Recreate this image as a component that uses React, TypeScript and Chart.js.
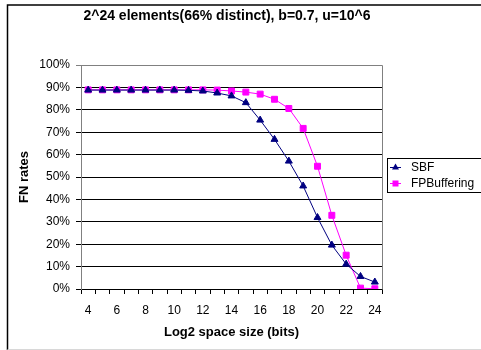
import React, { useEffect, useRef } from "react";
import { Chart, registerables } from "chart.js";

Chart.register(...registerables);

const TITLE = "2^24 elements(66% distinct), b=0.7, u=10^6";
const X_TITLE = "Log2 space size (bits)";
const Y_TITLE = "FN rates";
const categories = [4, 5, 6, 7, 8, 9, 10, 11, 12, 13, 14, 15, 16, 17, 18, 19, 20, 21, 22, 23, 24];
const sbf = [88.8, 88.8, 88.8, 88.8, 88.8, 88.8, 88.8, 88.7, 88.4, 87.5, 86.2, 83.2, 75.4, 66.8, 57.1, 46.0, 31.9, 19.6, 11.1, 5.6, 3.1];
const fpBuffering = [88.9, 88.9, 88.9, 88.9, 88.9, 88.9, 88.9, 88.9, 88.9, 88.8, 88.4, 87.9, 87.0, 84.7, 80.6, 71.7, 54.8, 32.9, 15.1, 0.4, 0.1];
const SERIES_NAMES = ["SBF", "FPBuffering"];
const COLORS = ["#000080", "#FF00FF"];
const FONT = "'Liberation Sans', Arial, sans-serif";

export default function App() {
  const ref = useRef<HTMLCanvasElement | null>(null);

  useEffect(() => {
    document.body.style.margin = "0";
    const canvas = ref.current;
    if (!canvas) return;

    const decor = {
      id: "decor",
      afterDraw(chart: any) {
        const ctx = chart.ctx;
        const ca = chart.chartArea;
        ctx.save();
        // outer frame
        ctx.strokeStyle = "#000";
        ctx.lineWidth = 1.5;
        ctx.beginPath();
        ctx.moveTo(7.5, 350);
        ctx.lineTo(7.5, 5);
        ctx.lineTo(481, 5);
        ctx.stroke();
        ctx.strokeStyle = "#d8d8d8";
        ctx.lineWidth = 1;
        ctx.beginPath();
        ctx.moveTo(7.5, 349.5);
        ctx.lineTo(481, 349.5);
        ctx.stroke();
        // plot border (gray top/right)
        ctx.strokeStyle = "#808080";
        ctx.beginPath();
        ctx.moveTo(Math.round(ca.left) + 0.5, Math.round(ca.top) + 0.5);
        ctx.lineTo(Math.round(ca.right) + 0.5, Math.round(ca.top) + 0.5);
        ctx.lineTo(Math.round(ca.right) + 0.5, Math.round(ca.bottom) + 0.5);
        ctx.stroke();
        // title
        ctx.fillStyle = "#000";
        ctx.font = `bold 14px ${FONT}`;
        ctx.textAlign = "center";
        ctx.textBaseline = "middle";
        ctx.fillText(TITLE, 227, 16);
        // legend
        const lx = 387, ly = 158, lw = 100, lh = 34;
        ctx.strokeStyle = "#000";
        ctx.lineWidth = 1;
        ctx.fillStyle = "#fff";
        ctx.fillRect(lx, ly, lw, lh);
        ctx.strokeRect(lx + 0.5, ly + 0.5, lw, lh);
        const rows = [167, 183];
        chart.data.datasets.forEach((ds: any, i: number) => {
          const y = rows[i];
          ctx.strokeStyle = ds.borderColor;
          ctx.lineWidth = 1;
          ctx.beginPath();
          ctx.moveTo(390, y + 0.5);
          ctx.lineTo(401, y + 0.5);
          ctx.stroke();
          ctx.fillStyle = ds.pointBackgroundColor;
          ctx.beginPath();
          if (ds.pointStyle === "triangle") {
            ctx.moveTo(395.5, y - 3.5);
            ctx.lineTo(399, y + 2.5);
            ctx.lineTo(392, y + 2.5);
            ctx.closePath();
          } else {
            ctx.rect(392.5, y - 2.5, 6, 6);
          }
          ctx.fill();
          ctx.fillStyle = "#000";
          ctx.font = `12px ${FONT}`;
          ctx.textAlign = "left";
          ctx.textBaseline = "middle";
          ctx.fillText(ds.label, 411, y + 0.5);
        });
        ctx.restore();
      },
    };

    const chart = new Chart(canvas, {
      type: "line",
      data: {
        labels: categories.map(String),
        datasets: [
          {
            label: SERIES_NAMES[0],
            data: sbf,
            borderColor: COLORS[0],
            backgroundColor: COLORS[0],
            pointBackgroundColor: COLORS[0],
            pointBorderColor: COLORS[0],
            pointStyle: "triangle",
            pointRadius: 4,
            borderWidth: 1,
            tension: 0,
          },
          {
            label: SERIES_NAMES[1],
            data: fpBuffering,
            borderColor: COLORS[1],
            backgroundColor: COLORS[1],
            pointBackgroundColor: COLORS[1],
            pointBorderColor: COLORS[1],
            pointStyle: "rect",
            pointRadius: 4.2,
            borderWidth: 1,
            tension: 0,
          },
        ],
      },
      options: {
        animation: false,
        responsive: false,
        maintainAspectRatio: false,
        devicePixelRatio: 1,
        layout: { padding: { left: 0, top: 65, right: 99, bottom: 0 } },
        plugins: {
          legend: { display: false },
          title: { display: false },
          tooltip: { enabled: false },
        },
        scales: {
          x: {
            type: "category",
            offset: true,
            grid: {
              offset: true,
              drawOnChartArea: false,
              drawTicks: true,
              tickLength: 5,
              color: "#000",
            },
            border: { display: true, color: "#000", width: 1 },
            ticks: {
              autoSkip: false,
              maxRotation: 0,
              padding: 9,
              color: "#000",
              font: { family: FONT, size: 12 },
              callback: (_v: any, i: number) => (categories[i] % 2 === 0 ? String(categories[i]) : ""),
            },
            title: {
              display: true,
              text: X_TITLE,
              color: "#000",
              font: { family: FONT, size: 13, weight: "bold" },
              padding: { top: 0, bottom: 10 },
            },
            afterFit: (s: any) => {
              s.height = 61;
            },
          },
          y: {
            min: 0,
            max: 100,
            grid: {
              color: (c: any) => (c.tick && c.tick.value === 100 ? "#808080" : "#000"),
              tickLength: 5,
              drawTicks: true,
            },
            border: { display: true, color: "#808080", width: 1 },
            ticks: {
              stepSize: 10,
              padding: 6,
              color: "#000",
              font: { family: FONT, size: 12 },
              callback: (v: any) => `${v}%`,
            },
            title: {
              display: true,
              text: Y_TITLE,
              color: "#000",
              font: { family: FONT, size: 13, weight: "bold" },
              padding: { top: 17, bottom: 0 },
            },
            afterFit: (s: any) => {
              s.width = 81;
            },
          },
        },
      },
      plugins: [decor],
    });

    return () => chart.destroy();
  }, []);

  return (
    <div style={{ position: "absolute", left: 0, top: 0, width: 481, height: 350, background: "#fff" }}>
      <canvas ref={ref} width={481} height={350} style={{ width: 481, height: 350, display: "block" }} />
    </div>
  );
}
